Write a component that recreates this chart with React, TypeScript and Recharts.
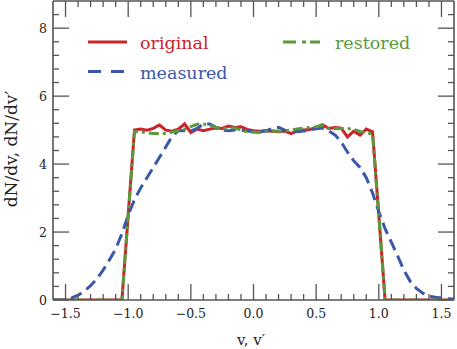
import React from 'react';
import { LineChart, Line, XAxis, YAxis, Legend } from 'recharts';

// sample points v (step 0.05)
const vValues = [
  -1.6, -1.55, -1.5, -1.45, -1.4, -1.35, -1.3, -1.25, -1.2, -1.15, -1.1, -1.05,
  -1.0,
  -0.95, -0.9, -0.85, -0.8, -0.75, -0.7, -0.65, -0.6, -0.55, -0.5,
  -0.45, -0.4, -0.35, -0.3, -0.25, -0.2, -0.15, -0.1, -0.05, 0.0,
  0.05, 0.1, 0.15, 0.2, 0.25, 0.3, 0.35, 0.4, 0.45, 0.5,
  0.55, 0.6, 0.65, 0.7, 0.75, 0.8, 0.85, 0.9, 0.95,
  1.0,
  1.05, 1.1, 1.15, 1.2, 1.25, 1.3, 1.35, 1.4, 1.45, 1.5, 1.55, 1.6,
];

const original = [
  0, 0, 0, 0, 0, 0, 0, 0, 0, 0, 0, 0,
  2.5,
  5.0, 5.03, 5.0, 5.05, 5.15, 5.0, 4.97, 5.03, 5.18, 4.93,
  5.03, 4.98, 5.03, 5.06, 5.05, 5.12, 5.08, 5.1, 5.02, 4.98,
  4.97, 4.98, 4.97, 4.95, 4.97, 4.9, 4.98, 5.0, 5.02, 5.08,
  5.16, 5.05, 5.08, 5.06, 4.8, 4.97, 4.85, 5.03, 4.95,
  2.5,
  0, 0, 0, 0, 0, 0, 0, 0, 0, 0, 0, 0,
];

const measured = [
  0, 0, 0.01, 0.06, 0.14, 0.26, 0.42, 0.62, 0.88, 1.18, 1.5, 1.95,
  2.5,
  2.95, 3.3, 3.6, 3.9, 4.2, 4.5, 4.82, 4.98, 4.98, 4.97,
  5.05, 5.18, 5.18, 5.08, 5.0, 4.98, 5.0, 5.0, 4.97, 4.95,
  4.95, 4.98, 5.05, 5.08, 5.0, 4.97, 4.95, 4.97, 5.0, 5.04,
  5.06, 4.98, 4.86, 4.65, 4.35, 4.1, 3.9, 3.6, 3.15,
  2.6,
  2.1, 1.7, 1.3, 0.88, 0.55, 0.34, 0.2, 0.12, 0.08, 0.06, 0.04, 0.03,
];

const restored = [
  0, 0, 0, 0, 0, 0, 0, 0, 0, 0, 0, 0,
  2.5,
  4.95, 4.95, 4.92, 4.9, 4.9, 4.9, 4.94, 4.98, 5.02, 5.1,
  5.17, 5.18, 5.14, 5.08, 5.05, 5.05, 5.07, 5.0, 4.95, 4.94,
  4.93, 4.96, 4.98, 4.97, 4.98, 5.0, 5.03, 5.06, 5.08, 5.1,
  5.14, 5.05, 5.04, 5.05, 5.05, 5.02, 4.96, 4.93, 4.88,
  2.5,
  0, 0, 0, 0, 0, 0, 0, 0, 0, 0, 0, 0,
];

const xTicks = [
  -1.5, -1.4, -1.3, -1.2, -1.1, -1.0, -0.9, -0.8, -0.7, -0.6, -0.5,
  -0.4, -0.3, -0.2, -0.1, 0.0, 0.1, 0.2, 0.3, 0.4, 0.5,
  0.6, 0.7, 0.8, 0.9, 1.0, 1.1, 1.2, 1.3, 1.4, 1.5,
];
const yTicks = [
  0, 0.4, 0.8, 1.2, 1.6, 2, 2.4, 2.8, 3.2, 3.6, 4,
  4.4, 4.8, 5.2, 5.6, 6, 6.4, 6.8, 7.2, 7.6, 8, 8.4,
];

const data = vValues.map((v, i) => ({
  v,
  original: original[i],
  measured: measured[i],
  restored: restored[i],
}));

const RED = '#cc2229';
const BLUE = '#3a57aa';
const GREEN = '#5a9a3c';
const FRAME = '#555555';
const FONT = '"DejaVu Serif", serif';

const isMajor = (v: number, step: number) => Math.abs(v / step - Math.round(v / step)) < 1e-6;
const fmt = (v: number, digits: number) =>
  v < 0 ? '\u2212' + Math.abs(v).toFixed(digits) : v.toFixed(digits);

const MAJOR = 16;
const MINOR = 6;

const BottomTick = ({ x, y, payload }: any) => {
  const major = isMajor(payload.value, 0.5);
  return (
    <g>
      <line x1={x} x2={x} y1={y} y2={y - (major ? MAJOR : MINOR)} stroke={FRAME} strokeWidth={1.3} />
      {major && (
        <text x={x} y={y + 18} textAnchor="middle" fontFamily={FONT} fontSize={12.5} fill="#222">
          {fmt(payload.value, 1)}
        </text>
      )}
    </g>
  );
};

const TopTick = ({ x, y, payload }: any) => {
  const major = isMajor(payload.value, 0.5);
  return <line x1={x} x2={x} y1={y} y2={y + (major ? MAJOR : MINOR)} stroke={FRAME} strokeWidth={1.3} />;
};

const LeftTick = ({ x, y, payload }: any) => {
  const major = isMajor(payload.value, 2);
  return (
    <g>
      <line x1={x} x2={x + (major ? MAJOR : MINOR)} y1={y} y2={y} stroke={FRAME} strokeWidth={1.3} />
      {major && (
        <text x={x - 6} y={y + 4.5} textAnchor="end" fontFamily={FONT} fontSize={12.5} fill="#222">
          {fmt(payload.value, 0)}
        </text>
      )}
    </g>
  );
};

const RightTick = ({ x, y, payload }: any) => {
  const major = isMajor(payload.value, 2);
  return <line x1={x} x2={x - (major ? MAJOR : MINOR)} y1={y} y2={y} stroke={FRAME} strokeWidth={1.3} />;
};

const xTitle = () => (
  <text x={251} y={345} textAnchor="middle" fontFamily={FONT} fontSize={15} fill="#222">
    v,  v′
  </text>
);

const yTitle = () => (
  <text x={17} y={149} transform="rotate(-90 17 149)" textAnchor="middle" fontFamily={FONT} fontSize={17} fill="#222">
    dN/dv,  dN/dv′
  </text>
);

const renderLegend = () => (
  <svg width={457} height={100} style={{ display: 'block' }}>
    <line x1={88} x2={127} y1={42} y2={42} stroke={RED} strokeWidth={3} />
    <text x={140} y={48.5} fontFamily={FONT} fontSize={17.5} fill={RED}>original</text>
    <line x1={88} x2={127} y1={71.5} y2={71.5} stroke={BLUE} strokeWidth={3} strokeDasharray="13 10" />
    <text x={140} y={79} fontFamily={FONT} fontSize={17.5} fill={BLUE}>measured</text>
    <line x1={283} x2={320} y1={42} y2={42} stroke={GREEN} strokeWidth={3} strokeDasharray="13 6 4 4" />
    <text x={335} y={48.5} fontFamily={FONT} fontSize={17.5} fill={GREEN}>restored</text>
  </svg>
);

export default function App() {
  return (
    <div style={{ position: 'absolute', left: 0, top: 0, width: 457, height: 349, background: '#fff' }}>
      <LineChart width={457} height={349} data={data} margin={{ top: 0, right: 0, bottom: 0, left: 0 }}>
        <XAxis
          dataKey="v"
          type="number"
          domain={[-1.6, 1.6]}
          allowDataOverflow
          ticks={xTicks}
          interval={0}
          height={49}
          tickSize={0}
          tickMargin={0}
          tickLine={false}
          tick={BottomTick}
          axisLine={{ stroke: FRAME, strokeWidth: 1.6 }}
          label={xTitle}
        />
        <XAxis
          xAxisId="top"
          orientation="top"
          dataKey="v"
          type="number"
          domain={[-1.6, 1.6]}
          allowDataOverflow
          ticks={xTicks}
          interval={0}
          height={1}
          tickSize={0}
          tickMargin={0}
          tickLine={false}
          tick={TopTick}
          axisLine={{ stroke: FRAME, strokeWidth: 1.6 }}
        />
        <YAxis
          type="number"
          domain={[0, 8.8]}
          allowDataOverflow
          ticks={yTicks}
          interval={0}
          width={53}
          tickSize={0}
          tickMargin={0}
          tickLine={false}
          tick={LeftTick}
          axisLine={{ stroke: FRAME, strokeWidth: 1.6 }}
          label={yTitle}
        />
        <YAxis
          yAxisId="right"
          orientation="right"
          type="number"
          domain={[0, 8.8]}
          allowDataOverflow
          ticks={yTicks}
          interval={0}
          width={3}
          tickSize={0}
          tickMargin={0}
          tickLine={false}
          tick={RightTick}
          axisLine={{ stroke: FRAME, strokeWidth: 1.6 }}
        />
        <Legend
          content={renderLegend}
          layout="horizontal"
          verticalAlign="middle"
          align="center"
          wrapperStyle={{ position: 'absolute', left: 0, top: 0, width: 457, height: 100 }}
        />
        <Line type="linear" dataKey="original" stroke={RED} strokeWidth={3} dot={false} isAnimationActive={false} />
        <Line type="linear" dataKey="measured" stroke={BLUE} strokeWidth={3} strokeDasharray="12 6" dot={false} isAnimationActive={false} />
        <Line type="linear" dataKey="restored" stroke={GREEN} strokeWidth={3} strokeDasharray="10 4 3 4" dot={false} isAnimationActive={false} />
      </LineChart>
    </div>
  );
}
